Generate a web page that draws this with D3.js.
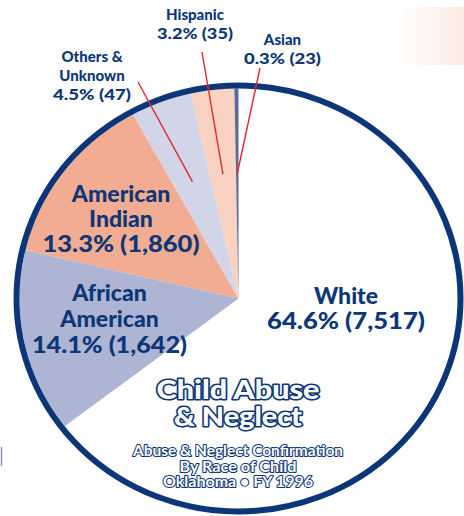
<!DOCTYPE html>
<html>
<head>
<meta charset="utf-8">
<script src="https://cdn.jsdelivr.net/npm/d3@7"></script>
<style>
  body { margin: 0; background: #fff; }
  svg { display: block; font-family: Lato, "Open Sans", sans-serif; }
</style>
</head>
<body>
<svg></svg>
<script>
let categories = ["White", "African American", "American Indian", "Others & Unknown", "Hispanic", "Asian"];
let percents = [64.6, 14.1, 13.3, 4.5, 3.2, 0.3];
let counts = [7517, 1642, 1860, 47, 35, 23];
let colors = ["#ffffff", "#aeb5d4", "#f2ac91", "#d2d5e7", "#f9d2c2", "#5a6a9c"];

// name lines for each slice label
let nameLines = [
    ["White"],
    ["African", "American"],
    ["American", "Indian"],
    ["Others &", "Unknown"],
    ["Hispanic"],
    ["Asian"]
];

let width = 464;
let height = 516;
let cx = 238.5;
let cy = 298.5;
let radius = 213;
let squeeze = 222 / 213;
let navy = "#0c3677";

// x, first baseline, font size, line gap, width of the value line
let labelPos = [
    {x: 346, y: 304, size: 23, gap: 25, w: 158},
    {x: 109.5, y: 301, size: 23, gap: 26, w: 155},
    {x: 121, y: 202, size: 23, gap: 25, w: 157},
    {x: 92, y: 62, size: 15, gap: 19, w: 78},
    {x: 195, y: 20, size: 15, gap: 18.5, w: 76},
    {x: 282.5, y: 45, size: 15, gap: 18.5, w: 77}
];
let leaderEnds = [null, null, null, [138, 82], [202, 52], [260, 68]];

let svg = d3.select("svg")
    .attr("width", width)
    .attr("height", height);

// faint tinted box top right
let grad = svg.append("defs").append("linearGradient").attr("id", "tint");
grad.append("stop").attr("offset", "0%").attr("stop-color", "#ffffff");
grad.append("stop").attr("offset", "100%").attr("stop-color", "#fbebe4");
svg.append("rect")
   .attr("x", 395).attr("y", 7)
   .attr("width", 69).attr("height", 58)
   .attr("fill", "url(#tint)");

svg.append("line")
   .attr("x1", 1.5).attr("x2", 1.5)
   .attr("y1", 447).attr("y2", 466)
   .attr("stroke", "#8a93b8").attr("stroke-width", 1.5);

let pie = d3.pie().sort(null).value(d => d);
let slices = pie(percents);

let arc = d3.arc().innerRadius(0).outerRadius(radius - 3);
let inner = d3.arc().innerRadius(125).outerRadius(125);

let g = svg.append("g")
    .attr("transform", `translate(${cx}, ${cy}) scale(${squeeze}, 1)`);

g.selectAll("path")
 .data(slices)
 .enter()
 .append("path")
 .attr("d", arc)
 .attr("fill", (d, i) => colors[i]);

g.append("circle")
 .attr("r", radius)
 .attr("fill", "none")
 .attr("stroke", navy)
 .attr("stroke-width", 6)
 .attr("vector-effect", "non-scaling-stroke");

// red leader lines for the thin slices
slices.forEach((d, i) => {
    if (!leaderEnds[i]) return;
    let c = inner.centroid(d);
    svg.append("line")
       .attr("x1", leaderEnds[i][0]).attr("y1", leaderEnds[i][1])
       .attr("x2", cx + c[0] * squeeze).attr("y2", cy + c[1])
       .attr("stroke", "#e0282c")
       .attr("stroke-width", 1.4);
});

let fmt = d3.format(",");

nameLines.forEach((lines, i) => {
    let p = labelPos[i];
    let t = svg.append("text")
        .attr("text-anchor", "middle")
        .attr("fill", navy)
        .attr("font-weight", 900)
        .attr("font-size", p.size);
    lines.forEach((s, k) => {
        t.append("tspan")
         .attr("x", p.x)
         .attr("y", p.y + k * p.gap)
         .text(s);
    });
    t.append("tspan")
     .attr("x", p.x)
     .attr("y", p.y + lines.length * p.gap)
     .attr("textLength", p.w)
     .attr("lengthAdjust", "spacingAndGlyphs")
     .text(`${percents[i].toFixed(1)}% (${fmt(counts[i])})`);
});

// outlined title
let title = [["Child Abuse", 399, 27, 163], ["& Neglect", 426, 27, 128]];
title.forEach(r => {
    svg.append("text")
       .attr("x", 238).attr("y", r[1])
       .attr("text-anchor", "middle")
       .attr("font-size", r[2])
       .attr("font-weight", 900)
       .attr("textLength", r[3])
       .attr("lengthAdjust", "spacingAndGlyphs")
       .attr("fill", "#fff")
       .attr("stroke", navy)
       .attr("stroke-width", 3.2)
       .attr("stroke-linejoin", "round")
       .attr("paint-order", "stroke")
       .text(r[0]);
});

let sub = [["Abuse & Neglect Confirmation", 456, 210], ["By Race of Child", 472, 117], ["Oklahoma \u2022 FY 1996", 487, 150]];
sub.forEach(r => {
    svg.append("text")
       .attr("x", 238).attr("y", r[1])
       .attr("text-anchor", "middle")
       .attr("font-size", 14.5)
       .attr("font-weight", 700)
       .attr("textLength", r[2])
       .attr("lengthAdjust", "spacingAndGlyphs")
       .attr("fill", "#fff")
       .attr("stroke", navy)
       .attr("stroke-width", 2)
       .attr("stroke-linejoin", "round")
       .attr("paint-order", "stroke")
       .text(r[0]);
});
</script>
</body>
</html>
